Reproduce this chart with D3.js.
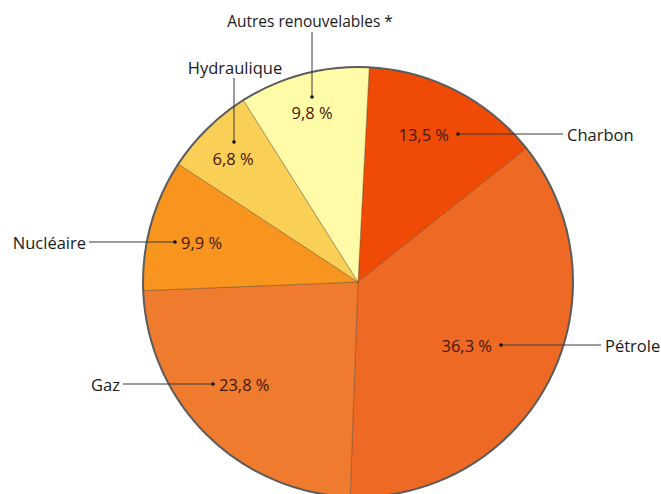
<!DOCTYPE html>
<html>
<head>
<meta charset="utf-8">
<script src="https://cdn.jsdelivr.net/npm/d3@7"></script>
<style>
  html, body { margin: 0; padding: 0; background: #fff; }
  svg { display: block; }
</style>
</head>
<body>
<svg id="chart" width="661" height="494"></svg>
<script>
// ---- data ----
const categories = ["Charbon", "Pétrole", "Gaz", "Nucléaire", "Hydraulique", "Autres renouvelables *"];
const values = [13.5, 36.3, 23.8, 9.9, 6.8, 9.8];
const valueLabels = ["13,5 %", "36,3 %", "23,8 %", "9,9 %", "6,8 %", "9,8 %"];

// ---- styles / layout (kept apart from data) ----
const colors = ["#EF4B06", "#EE6A24", "#EF7B2E", "#F7951F", "#F9CF55", "#FFFBA6"];
const W = 661, H = 494;
const cx = 358, cy = 282, R = 215;
const startAngle = 3 * Math.PI / 180;
const catSizes = [16.5, 16.5, 16.5, 16.5, 16.5, 15.5];
// annotation layout: dot position, value label placement, category label placement
const annot = [
  { dot: [458, 134], vAnchor: "end",    vPos: [449, 134], cAnchor: "start",  cPos: [567, 134], line: [[458,134],[563,134]] },
  { dot: [501, 345], vAnchor: "end",    vPos: [492, 345], cAnchor: "start",  cPos: [605, 345], line: [[501,345],[601,345]] },
  { dot: [213, 384], vAnchor: "start",  vPos: [219, 384], cAnchor: "end",    cPos: [120, 384], line: [[123,384],[213,384]] },
  { dot: [175, 242], vAnchor: "start",  vPos: [181, 242], cAnchor: "end",    cPos: [86, 242],  line: [[89,242],[175,242]] },
  { dot: [234, 142], vAnchor: "middle", vPos: [233, 158], cAnchor: "middle", cPos: [235, 67],  line: [[234,78],[234,142]] },
  { dot: [312, 97],  vAnchor: "middle", vPos: [312, 112], cAnchor: "middle", cPos: [310, 21],  line: [[312,32],[312,97]] }
];

const svg = d3.select("#chart");
const font = "'Open Sans', 'DejaVu Sans', sans-serif";

const pie = d3.pie().sort(null).value(d => d).startAngle(startAngle).endAngle(startAngle + 2 * Math.PI);
const arcs = pie(values);
const arc = d3.arc().innerRadius(0).outerRadius(R);

const g = svg.append("g").attr("transform", `translate(${cx},${cy})`);
g.selectAll("path.slice")
  .data(arcs)
  .join("path")
  .attr("class", "slice")
  .attr("d", arc)
  .attr("fill", (d, i) => colors[i])
  .attr("stroke", "rgba(110,70,40,0.55)")
  .attr("stroke-width", 0.8);

g.append("circle")
  .attr("r", R)
  .attr("fill", "none")
  .attr("stroke", "#5c5c5c")
  .attr("stroke-width", 2);

const ann = svg.append("g");
annot.forEach((a, i) => {
  ann.append("line")
    .attr("x1", a.line[0][0]).attr("y1", a.line[0][1])
    .attr("x2", a.line[1][0]).attr("y2", a.line[1][1])
    .attr("stroke", "#3a3a3a").attr("stroke-width", 1);
  ann.append("circle")
    .attr("cx", a.dot[0]).attr("cy", a.dot[1]).attr("r", 1.8)
    .attr("fill", "#111");
  ann.append("text")
    .attr("x", a.vPos[0]).attr("y", a.vPos[1])
    .attr("text-anchor", a.vAnchor)
    .attr("dominant-baseline", "central")
    .attr("font-family", font).attr("font-size", 16.5)
    .attr("fill", "#45170b")
    .text(valueLabels[i]);
  ann.append("text")
    .attr("x", a.cPos[0]).attr("y", a.cPos[1])
    .attr("text-anchor", a.cAnchor)
    .attr("dominant-baseline", "central")
    .attr("font-family", font).attr("font-size", catSizes[i])
    .attr("fill", "#1a1a1a")
    .text(categories[i]);
});
</script>
</body>
</html>
